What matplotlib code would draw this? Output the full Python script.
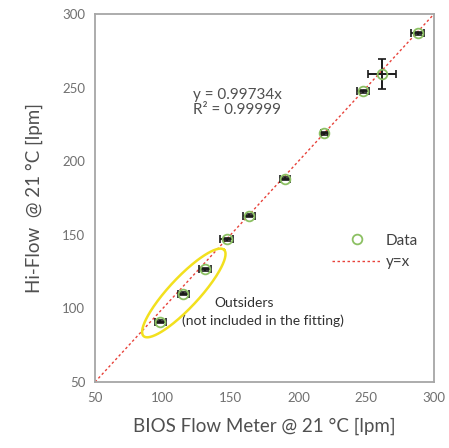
import numpy as np
import matplotlib
matplotlib.use("Agg")
import matplotlib.pyplot as plt

plt.rcParams['font.family'] = ['Lato', 'DejaVu Sans']

# Data
bios = [98, 115, 131, 147, 163.5, 190, 219, 247.5, 261.5, 288]
hiflow = [91, 110, 126.5, 147, 163, 188, 219, 247.5, 259, 287]
xerr = [4, 4, 4.5, 4.5, 4.5, 3.8, 2.6, 4.6, 10.3, 4.6]
yerr = [1, 1, 1, 1, 1, 1, 1, 1, 10.2, 1]
ticks = [50, 100, 150, 200, 250, 300]
ref_line = [50, 300]

fig = plt.figure(figsize=(4.49, 4.48), dpi=100)
ax = fig.add_axes([0.2116, 0.1473, 0.755, 0.8214])

line_ref, = ax.plot(ref_line, ref_line, linestyle=(0, (1.8, 1.8)), color='#e8423a', lw=1.0, zorder=2)
ax.errorbar(bios, hiflow, xerr=xerr, yerr=yerr, fmt='none', ecolor='#1a1a1a',
            elinewidth=1.4, capsize=3, capthick=1.2, zorder=3)
pts_data, = ax.plot(bios, hiflow, 'o', mfc='none', mec='#8cc063', mew=1.3, ms=7, zorder=4, linestyle='none')

ax.set_xlim(50, 300)
ax.set_ylim(50, 300)
ax.set_xticks(ticks)
ax.set_yticks(ticks)
ax.tick_params(length=0, labelsize=9.5, labelcolor='#707070', pad=7)
for s in ax.spines.values():
    s.set_color('#a6a6a6')
    s.set_linewidth(1.3)

ax.set_xlabel('BIOS Flow Meter @ 21 °C [lpm]', fontsize=13.5, color='#505050', labelpad=10)
ax.set_ylabel('Hi-Flow  @ 21 °C [lpm]', fontsize=13.5, color='#505050', labelpad=14)

ax.text(0.29, 0.80, 'y = 0.99734x\nR² = 0.99999', transform=ax.transAxes,
        fontsize=11, color='#505050', va='top', ha='left', linespacing=1.1)
ax.text(0.44, 0.215, 'Outsiders', transform=ax.transAxes, fontsize=10,
        color='#303030', ha='center', va='center')
ax.text(0.495, 0.166, '(not included in the fitting)', transform=ax.transAxes, fontsize=10,
        color='#303030', ha='center', va='center')

# Ellipse around outsiders, built in pixel space and converted to data coords
fig.canvas.draw()
cx, cy = ax.transData.transform((115.5, 110.5))
t = np.linspace(0, 2 * np.pi, 200)
a, b, ang = 59, 15, np.deg2rad(47)
px = cx + a * np.cos(t) * np.cos(ang) - b * np.sin(t) * np.sin(ang)
py = cy + a * np.cos(t) * np.sin(ang) + b * np.sin(t) * np.cos(ang)
pts = ax.transData.inverted().transform(np.column_stack([px, py]))
ax.plot(pts[:, 0], pts[:, 1], color='#f2e01e', lw=1.8, zorder=5)

leg = ax.legend(handles=[pts_data, line_ref], labels=['Data', 'y=x'],
                loc='center left', bbox_to_anchor=(0.66, 0.355), frameon=False,
                fontsize=11, handlelength=3.2, labelspacing=0.5, handletextpad=0.3)
for txt in leg.get_texts():
    txt.set_color('#404040')

fig.savefig('out.png', dpi=100)
